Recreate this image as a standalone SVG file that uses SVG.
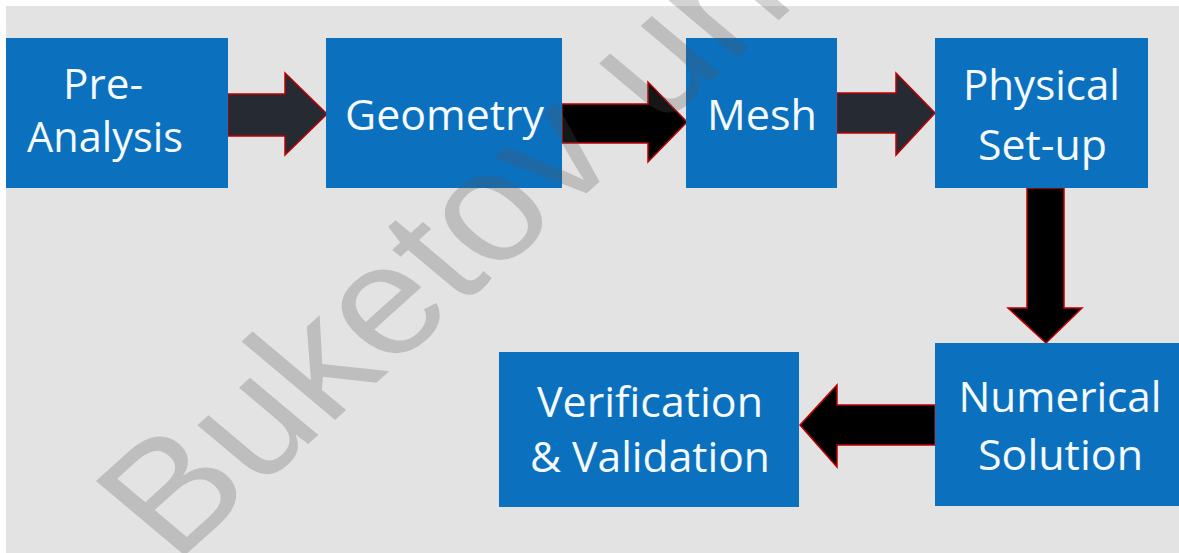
<svg xmlns="http://www.w3.org/2000/svg" width="1179" height="553" viewBox="0 0 1179 553">
  <defs>
    <style>
      .box { fill: #0b70be; }
      .lbl { font-family: "Open Sans", "Noto Sans", sans-serif; font-size: 42px; fill: #f4faff; text-anchor: middle; }
      .arr { stroke: #c00000; stroke-width: 1.5; stroke-linejoin: miter; }
      .dark { fill: #262a33; }
      .black { fill: #000000; }
      .wm { font-family: "Liberation Sans", Arial, sans-serif; font-size: 156px; fill: #555555; fill-opacity: 0.26; }
    </style>
  </defs>
  <rect x="0" y="0" width="1179" height="553" fill="#ffffff"/>
  <rect x="6" y="6" width="1173" height="547" fill="#e3e3e3"/>

  <g id="connectors">
    <polygon class="arr dark" points="228,94 285,94 285,73 327,114 285,155 285,136 228,136"/>
    <polygon class="arr black" points="562,104 648,104 648,82 687,122 648,162 648,143 562,143"/>
    <polygon class="arr dark" points="837,93 896,93 896,73 935,113 896,155 896,133 837,133"/>
    <polygon class="arr black" points="1027,188 1064,188 1064,308 1082,308 1046,343 1008,308 1027,308"/>
    <polygon class="arr black" points="935,405 935,445 837,445 837,467 800,425 837,385 837,405"/>
  </g>

  <g id="pre-analysis">
    <rect class="box" x="6" y="38" width="222" height="150"/>
    <text class="lbl" x="103" y="99" textLength="80" lengthAdjust="spacingAndGlyphs">Pre-</text>
    <text class="lbl" x="105" y="152" textLength="156" lengthAdjust="spacingAndGlyphs">Analysis</text>
  </g>
  <g id="geometry">
    <rect class="box" x="326" y="38" width="236" height="150"/>
    <text class="lbl" x="444.5" y="130" textLength="199" lengthAdjust="spacingAndGlyphs">Geometry</text>
  </g>
  <g id="mesh">
    <rect class="box" x="686" y="38" width="151" height="150"/>
    <text class="lbl" x="762" y="130" textLength="110" lengthAdjust="spacingAndGlyphs">Mesh</text>
  </g>
  <g id="physical-setup">
    <rect class="box" x="935" y="38" width="213" height="150"/>
    <text class="lbl" x="1041.5" y="100" textLength="157" lengthAdjust="spacingAndGlyphs">Physical</text>
    <text class="lbl" x="1042.5" y="160" textLength="129" lengthAdjust="spacingAndGlyphs">Set-up</text>
  </g>
  <g id="numerical-solution">
    <rect class="box" x="935" y="343" width="244" height="163"/>
    <text class="lbl" x="1060" y="412" textLength="203" lengthAdjust="spacingAndGlyphs">Numerical</text>
    <text class="lbl" x="1060.5" y="470" textLength="165" lengthAdjust="spacingAndGlyphs">Solution</text>
  </g>
  <g id="verification-validation">
    <rect class="box" x="499" y="352" width="300" height="155"/>
    <text class="lbl" x="650" y="417" textLength="226" lengthAdjust="spacingAndGlyphs">Verification</text>
    <text class="lbl" x="650" y="472" textLength="240" lengthAdjust="spacingAndGlyphs">&amp; Validation</text>
  </g>

  <g id="watermark">
    <text class="wm" transform="translate(184,556) scale(1.15,1) rotate(-46)" x="-12" y="0">Buketov uni</text>
  </g>
</svg>
